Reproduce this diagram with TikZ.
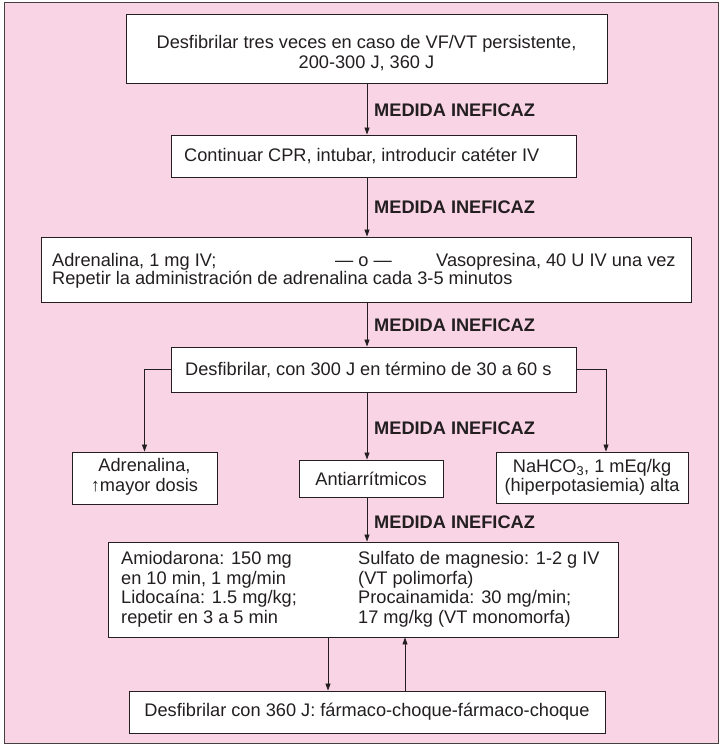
\documentclass[tikz,border=0pt]{standalone}
\usepackage{fontspec}
\setmainfont{Liberation Sans}
\usetikzlibrary{arrows.meta}
\definecolor{bgpink}{RGB}{249,212,228}
\definecolor{ink}{RGB}{35,31,32}
\tikzset{
  box/.style={draw=ink, line width=0.9pt, fill=white, inner sep=0pt},
  txt/.style={inner sep=0pt, text=ink, font=\fontsize{18.2}{19.5}\selectfont},
  lbl/.style={inner sep=0pt, text=ink, anchor=west, font=\fontsize{18.2}{19.5}\selectfont\bfseries},
  conn/.style={draw=ink, line width=0.8pt},
  arr/.style={conn, -{Triangle[length=7pt,width=5pt]}}
}
\begin{document}
\begin{tikzpicture}[x=1pt,y=-1pt]
\useasboundingbox (0,0) rectangle (723,746);
\fill[bgpink] (4,3) rectangle (718,743);
\draw[draw=ink!85, line width=1pt] (4,3) rectangle (718,743);

% column coordinates
\coordinate (cM) at (367,0);
\coordinate (cR) at (606,0);
\coordinate (cD) at (328,0);
\coordinate (cU) at (405,0);

% boxes
\node[box, minimum width=481pt, minimum height=69pt] (b1) at (366.5,48.5) {};
\node[box, minimum width=405pt, minimum height=42pt] (b2) at (373.5,156) {};
\node[box, minimum width=650pt, minimum height=65pt] (b3) at (366,269.5) {};
\node[box, minimum width=405pt, minimum height=45pt] (b4) at (373.5,369.5) {};
\node[box, minimum width=145pt, minimum height=52pt] (b5) at (144.5,478) {};
\node[box, minimum width=144pt, minimum height=37pt] (b6) at (371,478.5) {};
\node[box, minimum width=192pt, minimum height=51pt] (b7) at (592,477.5) {};
\node[box, minimum width=510pt, minimum height=95pt] (b8) at (363,589.5) {};
\node[box, minimum width=476pt, minimum height=42pt] (b9) at (367,712) {};

% texts
\node[txt, align=center] (t1) at (366.5,53) {Desfibrilar tres veces en caso de VF/VT persistente,\\200-300 J, 360 J};
\node[txt, anchor=west] (t2) at (184,156) {Continuar CPR, intubar, introducir catéter IV};
\node[txt, anchor=west, align=left, font=\fontsize{18.2}{18.5}\selectfont] (t3) at (52,271) {\makebox[283pt][l]{Adrenalina, 1 mg IV;}\makebox[101pt][l]{— o —}Vasopresina, 40 U IV una vez\\Repetir la administración de adrenalina cada 3-5 minutos};
\node[txt, anchor=west] (t4) at (185,370) {Desfibrilar, con 300 J en término de 30 a 60 s};
\node[txt, align=center] (t5) at (144.5,477) {Adrenalina,\\↑mayor dosis};
\node[txt] (t6) at (371,478.5) {Antiarrítmicos};
\node[txt, align=center] (t7) at (592,477.5) {NaHCO\textsubscript{3}, 1 mEq/kg\\(hiperpotasiemia) alta};
\node[txt, anchor=west, align=left] (t8) at (121,589.5) {\makebox[237pt][l]{Amiodarona: 150 mg}Sulfato de magnesio: 1-2 g IV\\\makebox[237pt][l]{en 10 min, 1 mg/min}(VT polimorfa)\\\makebox[237pt][l]{Lidocaína: 1.5 mg/kg;}Procainamida: 30 mg/min;\\\makebox[237pt][l]{repetir en 3 a 5 min}17 mg/kg (VT monomorfa)};
\node[txt] (t9) at (367,712) {Desfibrilar con 360 J: fármaco-choque-fármaco-choque};

% labels
\node[lbl] (l1) at (374,110) {MEDIDA INEFICAZ};
\node[lbl] (l2) at (374,207) {MEDIDA INEFICAZ};
\node[lbl] (l3) at (374,325) {MEDIDA INEFICAZ};
\node[lbl] (l4) at (374,428) {MEDIDA INEFICAZ};
\node[lbl] (l5) at (374,522) {MEDIDA INEFICAZ};

% connectors
\draw[arr] (b1.south -| cM) -- (b2.north -| cM);
\draw[arr] (b2.south -| cM) -- (b3.north -| cM);
\draw[arr] (b3.south -| cM) -- (b4.north -| cM);
\draw[arr] (b4.south -| cM) -- (b6.north -| cM);
\draw[arr] (b6.south -| cM) -- (b8.north -| cM);
\draw[arr] (b4.west) -| (b5.north);
\draw[arr] (b4.east) -| (cR |- b7.north);
\draw[arr] (b8.south -| cD) -- (b9.north -| cD);
\draw[arr] (b9.north -| cU) -- (b8.south -| cU);
\end{tikzpicture}
\end{document}
